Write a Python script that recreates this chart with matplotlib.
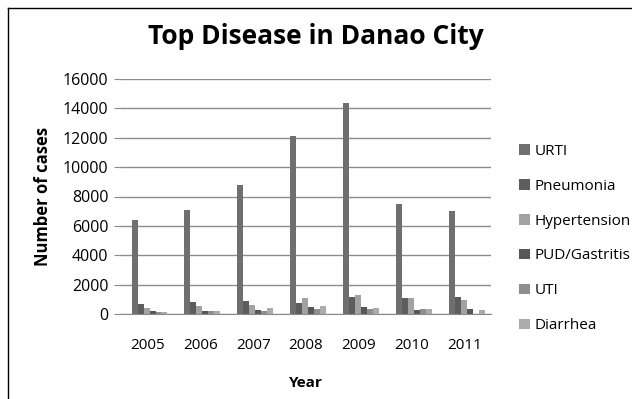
import numpy as np
import matplotlib.pyplot as plt

# Cases per year for each disease
years = ['2005', '2006', '2007', '2008', '2009', '2010', '2011']
diseases = ['URTI', 'Pneumonia', 'Hypertension', 'PUD/Gastritis', 'UTI', 'Diarrhea']
urti = [6420, 7080, 8780, 12140, 14360, 7490, 7030]
pneumonia = [680, 790, 860, 770, 1180, 1110, 1180]
hypertension = [410, 545, 590, 1110, 1320, 1110, 930]
pud_gastritis = [200, 180, 270, 480, 480, 250, 340]
uti = [140, 180, 180, 340, 340, 340, 0]
diarrhea = [120, 180, 410, 520, 410, 340, 270]
series = [urti, pneumonia, hypertension, pud_gastritis, uti, diarrhea]
colors = ['#6f6f6f', '#5d5d5d', '#a2a2a2', '#575757', '#8e8e8e', '#ababab']

plt.rcParams['font.family'] = ['Open Sans', 'DejaVu Sans']

W, H = 632, 399
fig = plt.figure(figsize=(W/100, H/100), dpi=100)
# plot area in pixels: x 121..491, y 79..314
ax = fig.add_axes([121/W, 1 - 314/H, 370/W, 235/H])

x = np.arange(len(years))
bw = 0.113
for i in range(len(series)):
    ax.bar(x - 2.5*bw + i*bw + 0.04, series[i], width=bw, color=colors[i], label=diseases[i])

ax.set_xlim(-0.5, len(years) - 0.5)
ax.set_ylim(0, 16000)
ax.set_yticks(np.arange(0, 16001, 2000))
ax.set_xticks(x)
ax.set_xticklabels(years)
ax.yaxis.grid(True, color='#8c8c8c', linewidth=1)
ax.set_axisbelow(True)
for s in ['top', 'right', 'left']:
    ax.spines[s].set_visible(False)
ax.spines['bottom'].set_color('#8c8c8c')
ax.tick_params(axis='y', length=5, color='#8c8c8c', labelsize=11.5, pad=4)
ax.tick_params(axis='x', length=0, labelsize=11, pad=17)

ax.set_ylabel('Number of cases', fontsize=12, fontweight='bold', labelpad=8)
ax.set_xlabel('Year', fontsize=11, fontweight='bold', labelpad=17)
fig.text(0.5, 1 - 37/H, 'Top Disease in Danao City', ha='center', va='center',
         fontsize=19, fontweight='bold')

ax.legend(loc='center left', bbox_to_anchor=(1.076, 0.321), frameon=False,
          borderpad=0, borderaxespad=0, fontsize=11, handlelength=0.7,
          handleheight=0.7, handletextpad=0.3, labelspacing=1.3)

# frame around the chart area
fig.add_artist(plt.Line2D([8/W, 8/W], [0, 1 - 8/H], color='black', linewidth=1))
fig.add_artist(plt.Line2D([8/W, 1], [1 - 8/H, 1 - 8/H], color='black', linewidth=1))

fig.savefig('out.png', dpi=100)
